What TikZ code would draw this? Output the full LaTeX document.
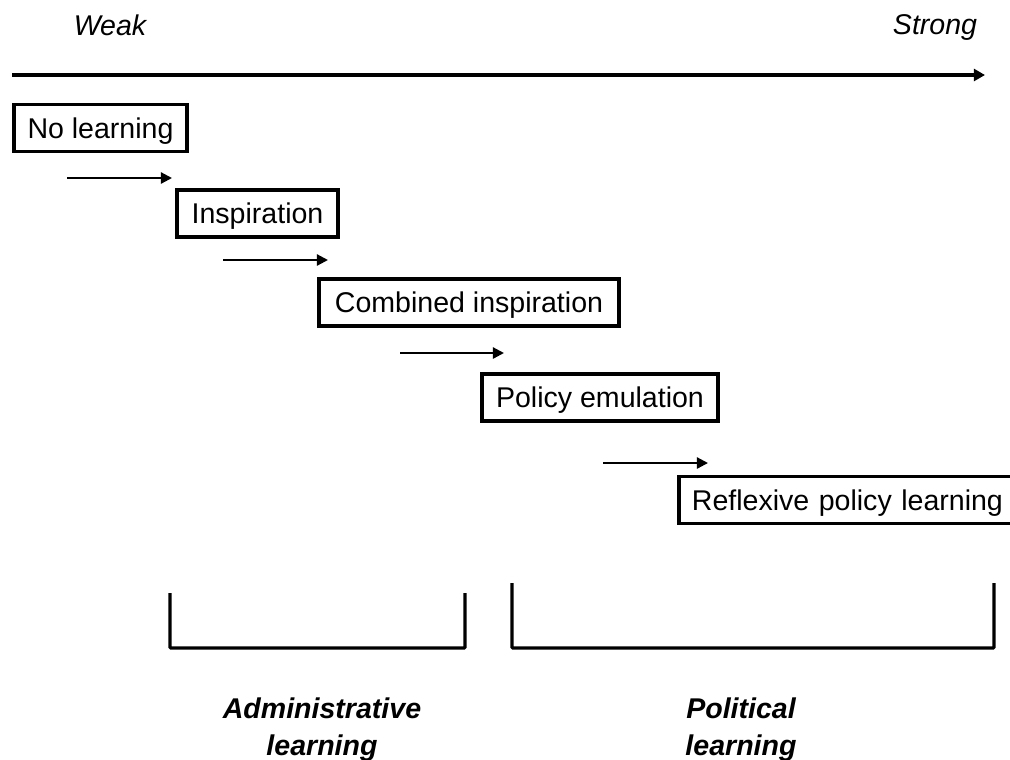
\documentclass[tikz,border=0pt]{standalone}
\usepackage{fontspec}
\setmainfont{Liberation Sans}
\usepackage{tikz}
\usetikzlibrary{arrows.meta,positioning}
\tikzset{
    stage/.style={
        draw=black,
        rectangle,
        line width=2.8pt,
        inner sep=0pt,
        align=center,
        text height=14.6pt,
        text depth=0pt,
        minimum height=1.175cm,
        font=\fontsize{20.3}{26.3}\selectfont
    },
    arrow/.style={
        -{Triangle[length=0.28cm,width=0.28cm]},
        line width=1.6pt,
        color=black
    },
    bigarrow/.style={
        -{Triangle[length=0.28cm,width=0.3cm]},
        line width=2.2pt,
        color=black
    },
    bracket/.style={
        line width=2.3pt,
        rounded corners=0.6pt
    },
    label/.style={
        font=\fontsize{20.3}{26.3}\selectfont\itshape
    },
    group/.style={
        font=\fontsize{20.3}{26.3}\selectfont\bfseries\itshape,
        align=center
    }
}

\begin{document}
\begin{tikzpicture}[x=0.025cm, y=-0.025cm]
    \clip (0,0) rectangle (1010,759);

    % Scale from weak to strong
    \node[label, anchor=base] (weak) at (110,35) {Weak};
    \node[label, anchor=base] (strong) at (935,34) {Strong};
    \coordinate (scalestart) at (12,75);
    \coordinate (scaleend) at (985,75);
    \draw[bigarrow] (scalestart) -- (scaleend);

    % Stages
    \node[stage, minimum width=4.34cm] (nolearning) at (100.5,128) {No learning};
    \node[stage, minimum width=4.04cm] (inspiration) at (257.5,213.5) {Inspiration};
    \node[stage, minimum width=7.51cm] (combined) at (469,302.5) {Combined inspiration};
    \node[stage, minimum width=5.91cm] (emulation) at (600,397.5) {Policy emulation};
    \node[stage, anchor=west, inner xsep=0.33cm, text width=8.25cm, align=left] (reflexive) at (676.75,500) {Reflexive policy learning};

    % Steps
    \coordinate (step1a) at (67,178);
    \coordinate (step1b) at (172,178);
    \coordinate (step2a) at (223,260);
    \coordinate (step2b) at (328,260);
    \coordinate (step3a) at (400,353);
    \coordinate (step3b) at (504,353);
    \coordinate (step4a) at (603,463);
    \coordinate (step4b) at (708,463);
    \draw[arrow] (step1a) -- (step1b);
    \draw[arrow] (step2a) -- (step2b);
    \draw[arrow] (step3a) -- (step3b);
    \draw[arrow] (step4a) -- (step4b);

    % Groups
    \draw[bracket] (170,593) |- (465,648) -- (465,593);
    \draw[bracket] (512,583) |- (994,648) -- (994,583);
    \node[group, anchor=base] (administrative) at (322,755) {Administrative\\learning};
    \node[group, anchor=base] (political) at (741,755) {Political\\learning};
\end{tikzpicture}
\end{document}
